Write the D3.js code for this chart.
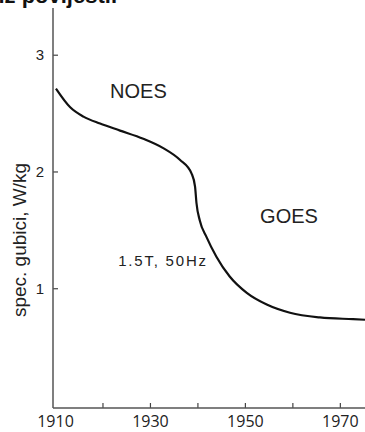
<!DOCTYPE html>
<html>
<head>
<meta charset="utf-8">
<script src="https://cdn.jsdelivr.net/npm/d3@7"></script>
<style>
  html, body { margin: 0; padding: 0; background: #fff; }
  svg { display: block; font-family: "Liberation Sans", Arial, sans-serif; }
</style>
</head>
<body>
<svg class="chart" width="365" height="432"></svg>
<script>
// curve
const years = [1910.2, 1913.2, 1916, 1919.5, 1923.7, 1928.6, 1932.8, 1936.3, 1938.8, 1939.5, 1939.8, 1940.5, 1941.9, 1944, 1946.8, 1950.4, 1954.6, 1959.5, 1965.8, 1972.8, 1975.3]
const losses = [2.71, 2.55, 2.47, 2.41, 2.35, 2.28, 2.20, 2.10, 1.98, 1.87, 1.73, 1.58, 1.44, 1.27, 1.10, 0.96, 0.86, 0.79, 0.75, 0.735, 0.73]

const xTicks = [1910, 1920, 1930, 1940, 1950, 1960, 1970]
const xLabels = [1910, 1930, 1950, 1970]
const yTicks = [1, 2, 3]

const notes = ['NOES', 'GOES', '1.5T, 50Hz']
const noteYears = [1921.6, 1953.2, 1923.3]
const noteValues = [2.63, 1.56, 1.19]

makeChart()

function makeChart() {
    const svg = d3.select('.chart')
    const x0 = 53, yBase = 408, yTop = 8

    const xScale = d3.scaleLinear()
        .domain([1910, 1975.3])
        .range([55, 365])

    const yScale = d3.scaleLinear()
        .domain([0, 3.4])
        .range([405, yTop])

    // title fragment cut at the top edge
    svg.append('text')
        .attr('x', 117)
        .attr('y', 3)
        .attr('text-anchor', 'end')
        .attr('font-weight', 'bold')
        .attr('font-size', 22)
        .attr('fill', '#111')
        .text('iz povijesti.')

    // x axis
    const xAxis = svg.append('g')
        .attr('transform', `translate(0, ${yBase})`)
        .call(d3.axisBottom(xScale)
            .tickValues(xTicks)
            .tickSize(-5)
            .tickPadding(8)
            .tickFormat(d => xLabels.includes(d) ? d : ''))
    xAxis.select('.domain').remove()
    xAxis.selectAll('.tick').filter(d => d === 1910).select('line').remove()
    xAxis.selectAll('line').attr('stroke', '#444').attr('stroke-width', 1.2)
    xAxis.selectAll('text').attr('font-size', 16).attr('fill', '#222')
        .attr('font-family', '"Open Sans", "Liberation Sans", sans-serif')

    // y axis
    const yAxis = svg.append('g')
        .attr('transform', `translate(${x0}, 0)`)
        .call(d3.axisLeft(yScale)
            .tickValues(yTicks)
            .tickSize(-5)
            .tickPadding(9)
            .tickFormat(d3.format('d')))
    yAxis.select('.domain').remove()
    yAxis.selectAll('line').attr('stroke', '#444').attr('stroke-width', 1.2)
    yAxis.selectAll('text').attr('font-size', 15).attr('fill', '#222')

    // axis lines
    svg.append('line')
        .attr('x1', x0).attr('x2', x0)
        .attr('y1', yTop).attr('y2', yBase)
        .attr('stroke', '#555').attr('stroke-width', 1.5)
    svg.append('line')
        .attr('x1', x0).attr('x2', 365)
        .attr('y1', yBase).attr('y2', yBase)
        .attr('stroke', '#555').attr('stroke-width', 1.5)

    // curve
    const line = d3.line()
        .x((d, i) => xScale(years[i]))
        .y(d => yScale(d))
        .curve(d3.curveMonotoneX)

    svg.append('path')
        .attr('d', line(losses))
        .attr('fill', 'none')
        .attr('stroke', '#111')
        .attr('stroke-width', 2.2)

    // annotations
    svg.selectAll('.note')
        .data(notes)
        .join('text')
        .attr('class', 'note')
        .attr('x', (d, i) => xScale(noteYears[i]))
        .attr('y', (d, i) => yScale(noteValues[i]))
        .attr('font-size', (d, i) => i === 2 ? 15 : 20)
        .attr('letter-spacing', (d, i) => i === 2 ? 1.8 : 0)
        .attr('fill', '#222')
        .text(d => d)

    // y label
    svg.append('text')
        .attr('transform', 'translate(26, 240) rotate(-90)')
        .attr('text-anchor', 'middle')
        .attr('font-size', 19)
        .attr('fill', '#222')
        .text('spec. gubici, W/kg')
}
</script>
</body>
</html>
